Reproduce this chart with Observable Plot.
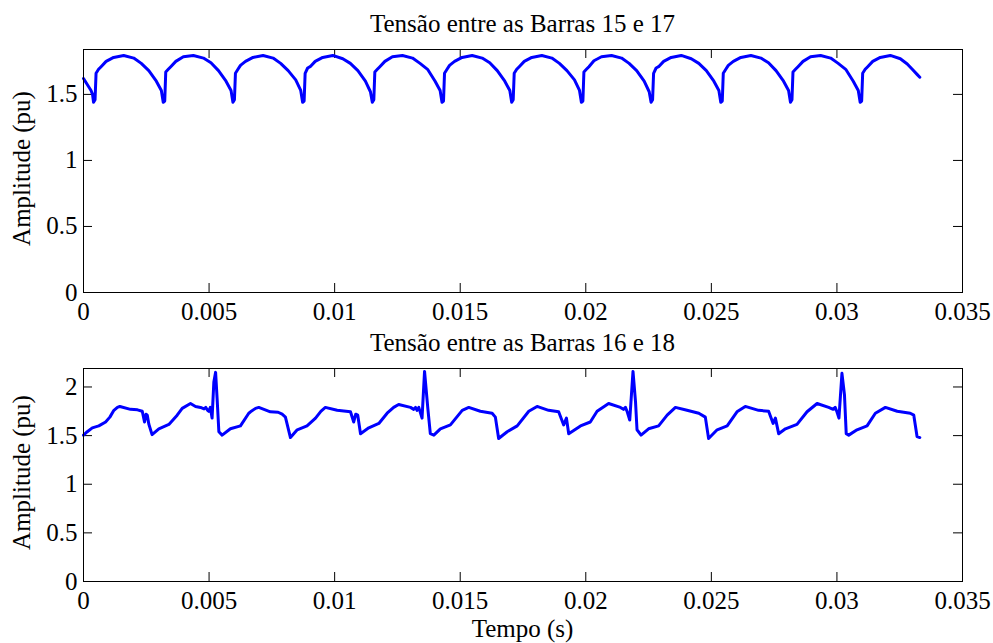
<!DOCTYPE html>
<html><head><meta charset="utf-8">
<script src="https://cdn.jsdelivr.net/npm/d3@7"></script>
<script src="https://cdn.jsdelivr.net/npm/@observablehq/plot@0.6"></script>
<style>
body{margin:0;background:#fff;}
#wrap{position:relative;width:993px;height:643px;overflow:hidden;background:#fff;}
#wrap > svg{position:absolute;left:0;}
</style></head><body><div id="wrap"></div>
<script>
// ---- titles and labels ----
const titleTop = "Tensão entre as Barras 15 e 17";
const titleBottom = "Tensão entre as Barras 16 e 18";
const yLabel = "Amplitude (pu)";
const xLabel = "Tempo (s)";

// ---- ticks ----
const xTicks = [0, 0.005, 0.01, 0.015, 0.02, 0.025, 0.03, 0.035];
const xTickLabels = ["0", "0.005", "0.01", "0.015", "0.02", "0.025", "0.03", "0.035"];
const yTicksTop = [0, 0.5, 1, 1.5];
const yTickLabelsTop = ["0", "0.5", "1", "1.5"];
const yTicksBottom = [0, 0.5, 1, 1.5, 2];
const yTickLabelsBottom = ["0", "0.5", "1", "1.5", "2"];
const yMaxTop = 1.84;
const yMaxBottom = 2.19;

// ---- series 1: Barras 15 e 17 ----
const timeTop = [
  0, 0.0001, 0.0002, 0.0003, 0.00036,
  0.0004, 0.00046, 0.0005, 0.0006, 0.0007, 0.0009, 0.0012, 0.0016, 0.002, 0.0023, 0.0026, 0.0029, 0.0031,
  0.003175, 0.003235, 0.003275, 0.003375, 0.003475, 0.003675, 0.003975, 0.004375, 0.004775, 0.005075, 0.005375, 0.005675, 0.005875,
  0.00595, 0.00601, 0.00605, 0.00615, 0.00625, 0.00645, 0.00675, 0.00715, 0.00755, 0.00785, 0.00815, 0.00845, 0.00865,
  0.008725, 0.008785, 0.008825, 0.008925, 0.009025, 0.009225, 0.009525, 0.009925, 0.010325, 0.010625, 0.010925, 0.011225, 0.011425,
  0.0115, 0.01156, 0.0116, 0.0117, 0.0118, 0.012, 0.0123, 0.0127, 0.0131, 0.0134, 0.0137, 0.014, 0.0142,
  0.014275, 0.014335, 0.014375, 0.014475, 0.014575, 0.014775, 0.015075, 0.015475, 0.015875, 0.016175, 0.016475, 0.016775, 0.016975,
  0.01705, 0.01711, 0.01715, 0.01725, 0.01735, 0.01755, 0.01785, 0.01825, 0.01865, 0.01895, 0.01925, 0.01955, 0.01975,
  0.019825, 0.019885, 0.019925, 0.020025, 0.020125, 0.020325, 0.020625, 0.021025, 0.021425, 0.021725, 0.022025, 0.022325, 0.022525,
  0.0226, 0.02266, 0.0227, 0.0228, 0.0229, 0.0231, 0.0234, 0.0238, 0.0242, 0.0245, 0.0248, 0.0251, 0.0253,
  0.025375, 0.025435, 0.025475, 0.025575, 0.025675, 0.025875, 0.026175, 0.026575, 0.026975, 0.027275, 0.027575, 0.027875, 0.028075,
  0.02815, 0.02821, 0.02825, 0.02835, 0.02845, 0.02865, 0.02895, 0.02935, 0.02975, 0.03005, 0.03035, 0.03065, 0.03085,
  0.030925, 0.030985, 0.031025, 0.031125, 0.031225, 0.031425, 0.031725, 0.032125, 0.032525, 0.0328, 0.033, 0.0332, 0.0333
];
const ampTop = [
  1.62, 1.59, 1.56, 1.53, 1.50,
  1.44, 1.46, 1.66, 1.69, 1.71, 1.75, 1.78, 1.795, 1.775, 1.735, 1.68, 1.60, 1.53,
  1.44, 1.45, 1.67, 1.69, 1.71, 1.75, 1.785, 1.795, 1.775, 1.74, 1.68, 1.60, 1.53,
  1.44, 1.46, 1.66, 1.69, 1.72, 1.75, 1.78, 1.795, 1.775, 1.735, 1.68, 1.61, 1.53,
  1.44, 1.45, 1.66, 1.70, 1.71, 1.75, 1.78, 1.795, 1.77, 1.735, 1.68, 1.60, 1.52,
  1.44, 1.46, 1.67, 1.69, 1.71, 1.75, 1.785, 1.795, 1.775, 1.735, 1.69, 1.60, 1.53,
  1.44, 1.45, 1.66, 1.69, 1.72, 1.75, 1.78, 1.795, 1.775, 1.74, 1.68, 1.60, 1.53,
  1.44, 1.46, 1.66, 1.69, 1.71, 1.75, 1.78, 1.795, 1.775, 1.735, 1.68, 1.61, 1.53,
  1.44, 1.45, 1.67, 1.69, 1.71, 1.755, 1.785, 1.795, 1.775, 1.735, 1.68, 1.60, 1.52,
  1.44, 1.46, 1.66, 1.70, 1.71, 1.75, 1.78, 1.795, 1.77, 1.735, 1.68, 1.60, 1.53,
  1.44, 1.45, 1.66, 1.69, 1.72, 1.75, 1.78, 1.795, 1.775, 1.74, 1.68, 1.60, 1.53,
  1.44, 1.46, 1.67, 1.69, 1.71, 1.75, 1.785, 1.795, 1.775, 1.735, 1.69, 1.60, 1.53,
  1.44, 1.45, 1.66, 1.69, 1.71, 1.75, 1.78, 1.795, 1.77, 1.73, 1.69, 1.65, 1.63
];

// ---- series 2: Barras 16 e 18 ----
const timeBottom = [
  0, 0.00015, 0.00035, 0.00061, 0.00088, 0.00105, 0.00121, 0.00135, 0.00145, 0.00187, 0.00215, 0.00234, 0.00243, 0.00249, 0.00254, 0.0026, 0.00273,
  0.003, 0.0034, 0.00373, 0.00393, 0.00426, 0.00446, 0.00466, 0.0048, 0.00487, 0.00494, 0.00499, 0.00505, 0.00512, 0.00519, 0.00526, 0.00532, 0.00539, 0.00552,
  0.00585, 0.00625, 0.00658, 0.00665, 0.00685, 0.00698, 0.00744, 0.00775, 0.00791, 0.00804, 0.00824, 0.00851, 0.0089, 0.00924, 0.00945, 0.00963,
  0.0101, 0.01063, 0.01076, 0.01084, 0.01092, 0.01103, 0.01136, 0.01176, 0.01209, 0.01235, 0.01255, 0.01302, 0.01315, 0.01322, 0.01328, 0.01335, 0.01348,
  0.01358, 0.01371, 0.01381, 0.01395, 0.01421, 0.01461, 0.01508, 0.01534, 0.0158, 0.01627, 0.0164, 0.01653, 0.01687, 0.01727,
  0.01773, 0.01806, 0.01852, 0.01892, 0.01912, 0.01923, 0.01932, 0.01979, 0.02018, 0.02045, 0.02091, 0.02138, 0.0215, 0.02158, 0.02165,
  0.02175, 0.02188, 0.02198, 0.02204, 0.0222, 0.0225, 0.0229, 0.02324, 0.02357, 0.02403, 0.0245, 0.02476, 0.02489, 0.02523,
  0.02563, 0.02602, 0.02635, 0.02688, 0.02728, 0.02746, 0.02755, 0.02768, 0.02795, 0.02841, 0.02881, 0.02921, 0.02967, 0.02985, 0.02993, 0.03,
  0.03008, 0.0302, 0.0303, 0.03037, 0.03047, 0.0308, 0.0312, 0.03153, 0.03193, 0.0324, 0.03292, 0.03306, 0.03319, 0.0333
];
const ampBottom = [
  1.505, 1.54, 1.58, 1.60, 1.64, 1.69, 1.76, 1.79, 1.80, 1.77, 1.765, 1.75, 1.64, 1.72, 1.71, 1.62, 1.51,
  1.57, 1.615, 1.71, 1.78, 1.83, 1.80, 1.79, 1.775, 1.79, 1.76, 1.75, 1.79, 1.68, 2.05, 2.15, 1.88, 1.54, 1.505,
  1.57, 1.60, 1.73, 1.745, 1.78, 1.79, 1.745, 1.74, 1.72, 1.69, 1.48, 1.56, 1.60, 1.68, 1.75, 1.79,
  1.76, 1.745, 1.64, 1.72, 1.71, 1.52, 1.58, 1.625, 1.73, 1.79, 1.82, 1.79, 1.77, 1.79, 1.76, 1.79, 1.68,
  2.16, 1.78, 1.52, 1.505, 1.57, 1.61, 1.76, 1.79, 1.75, 1.73, 1.69, 1.47, 1.54, 1.60,
  1.75, 1.80, 1.76, 1.745, 1.61, 1.68, 1.52, 1.60, 1.64, 1.75, 1.83, 1.79, 1.77, 1.79, 1.745,
  1.66, 2.16, 1.85, 1.56, 1.505, 1.57, 1.60, 1.71, 1.79, 1.76, 1.73, 1.69, 1.47, 1.56,
  1.60, 1.745, 1.80, 1.76, 1.75, 1.625, 1.68, 1.52, 1.57, 1.615, 1.745, 1.83, 1.79, 1.77, 1.79, 1.745,
  1.68, 2.14, 1.92, 1.52, 1.505, 1.56, 1.60, 1.73, 1.79, 1.75, 1.73, 1.71, 1.49, 1.48
];

const FONT = '"Liberation Serif", "Times New Roman", Times, serif';
const FS = 25;
const W = 993, ML = 83, MR = 31;

function panel(time, amp, yMax, yTicks, yTickLabels, height, mt, mb) {
  const data = time.map((t, i) => ({t, v: amp[i]}));
  const H = height - mt - mb, PW = W - ML - MR, tl = 9;
  const xf = new Map(xTicks.map((d, i) => [d, xTickLabels[i]]));
  const yf = new Map(yTicks.map((d, i) => [d, yTickLabels[i]]));
  return Plot.plot({
    width: W, height, marginLeft: ML, marginRight: MR, marginTop: mt, marginBottom: mb,
    x: {domain: [0, 0.035]},
    y: {domain: [0, yMax]},
    style: {fontFamily: FONT, fontSize: FS + "px", background: "white", color: "black", overflow: "visible"},
    marks: [
      Plot.ruleX(xTicks, {x: d => d, insetTop: H - tl, stroke: "#000"}),
      Plot.ruleX(xTicks, {x: d => d, insetBottom: H - tl, stroke: "#000"}),
      Plot.ruleY(yTicks, {y: d => d, insetRight: PW - tl, stroke: "#000"}),
      Plot.ruleY(yTicks, {y: d => d, insetLeft: PW - tl, stroke: "#000"}),
      Plot.line(data, {x: "t", y: "v", stroke: "#0000ff", strokeWidth: 3}),
      Plot.frame({stroke: "#000"}),
      Plot.axisX({ticks: xTicks, tickSize: 0, tickPadding: 10, tickFormat: d => xf.get(d), label: null, fill: "#000"}),
      Plot.axisY({ticks: yTicks, tickSize: 0, tickPadding: 6, tickFormat: d => yf.get(d), label: null, fill: "#000"})
    ]
  });
}

const wrap = document.getElementById("wrap");
const p1 = panel(timeTop, ampTop, yMaxTop, yTicksTop, yTickLabelsTop, 330, 49, 38);
p1.style.top = "0px";
wrap.appendChild(p1);
const p2 = panel(timeBottom, ampBottom, yMaxBottom, yTicksBottom, yTickLabelsBottom, 313, 38, 62);
p2.style.top = "330px";
wrap.appendChild(p2);

// overlay texts
const ov = d3.select(wrap).append("svg")
  .attr("width", W).attr("height", 643)
  .style("position", "absolute").style("left", "0px").style("top", "0px")
  .style("pointer-events", "none")
  .attr("font-family", FONT).attr("font-size", FS).attr("fill", "#000");
const cx = ML + (W - ML - MR) / 2;
ov.append("text").attr("x", cx).attr("y", 32).attr("text-anchor", "middle").text(titleTop);
ov.append("text").attr("x", cx).attr("y", 351).attr("text-anchor", "middle").text(titleBottom);
ov.append("text").attr("x", cx).attr("y", 637).attr("text-anchor", "middle").text(xLabel);
ov.append("text").attr("transform", `translate(30,${(49 + 292) / 2 - 2}) rotate(-90)`).attr("text-anchor", "middle").text(yLabel);
ov.append("text").attr("transform", `translate(30,${(368 + 581) / 2 - 2}) rotate(-90)`).attr("text-anchor", "middle").text(yLabel);
</script></body></html>
